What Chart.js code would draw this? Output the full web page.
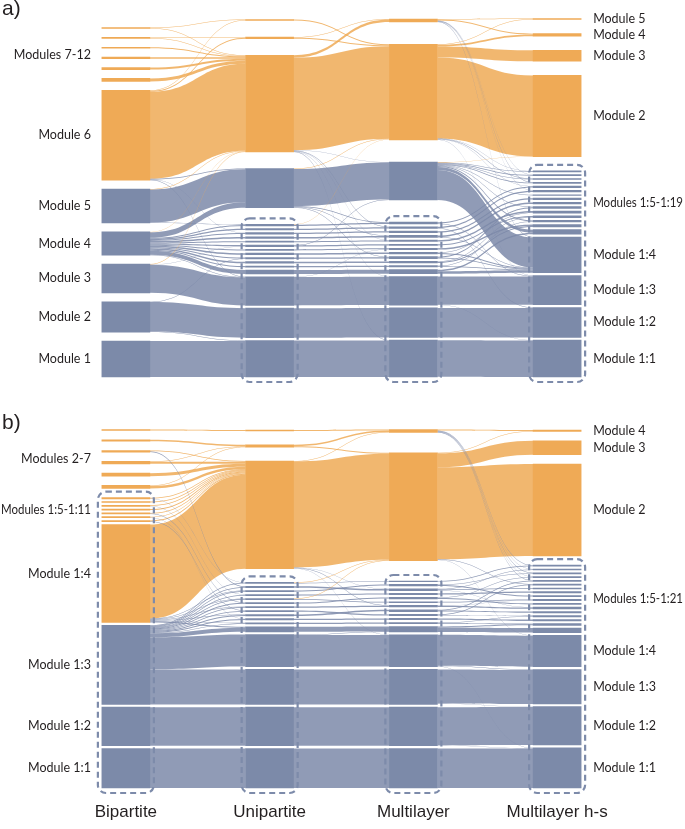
<!DOCTYPE html>
<html>
<head>
<meta charset="utf-8">
<script src="https://cdn.jsdelivr.net/npm/chart.js@4.4.0/dist/chart.umd.min.js"></script>
<style>
  body { margin: 0; background: #fff; width: 685px; height: 829px; overflow: hidden; }
  canvas { display: block; }
</style>
</head>
<body>
<canvas id="panelA" width="685" height="410"></canvas>
<canvas id="panelB" width="685" height="419"></canvas>
<script>
// column names (x axis)
const columns = ['Bipartite', 'Unipartite', 'Multilayer', 'Multilayer h-s'];

// ---------- panel a ----------
const nodesA0 = ['Module 7', 'Module 8', 'Module 9', 'Module 10', 'Module 11', 'Module 12', 'Module 6', 'Module 5', 'Module 4', 'Module 3', 'Module 2', 'Module 1'];
const nodesA1 = ['t1', 't2', 'O', 'B', 's1', 's2', 's3', 's4', 's5', 's6', 's7', 's8', 's9', 's10', 's11', 's12', '3', '2', '1'];
const nodesA2 = ['t1', 'O', 'B', 's1', 's2', 's3', 's4', 's5', 's6', 's7', 's8', 's9', 's10', 's11', 's12', '3', '2', '1'];
const nodesA3 = ['Module 5', 'Module 4', 'Module 3', 'Module 2', 'Module 1:5', 'Module 1:6', 'Module 1:7', 'Module 1:8', 'Module 1:9', 'Module 1:10', 'Module 1:11', 'Module 1:12', 'Module 1:13', 'Module 1:14', 'Module 1:15', 'Module 1:16', 'Module 1:17', 'Module 1:18', 'Module 1:19', 'Module 1:4', 'Module 1:3', 'Module 1:2', 'Module 1:1'];
const orangeA = [
  ['Module 7', 'Module 8', 'Module 9', 'Module 10', 'Module 11', 'Module 12', 'Module 6'],
  ['t1', 't2', 'O'],
  ['t1', 'O'],
  ['Module 5', 'Module 4', 'Module 3', 'Module 2']
];
// first node of the dashed group in each column
const boxA = [null, 's1', 's1', 'Module 1:5'];

const flowsA01 = [
  ['Module 7', 't1', 0.5], ['Module 7', 'O', 0.5],
  ['Module 8', 't2', 0.5], ['Module 8', 'O', 0.5],
  ['Module 9', 'O', 1], ['Module 10', 'O', 1.5], ['Module 11', 'O', 2], ['Module 12', 'O', 3],
  ['Module 6', 't1', 0.5], ['Module 6', 't2', 1], ['Module 6', 'O', 87], ['Module 6', 'B', 0.6], ['Module 6', 's3', 0.4], ['Module 6', '3', 0.3],
  ['Module 5', 'O', 0.4], ['Module 5', 'B', 33], ['Module 5', 's1', 0.6],
  ['Module 4', 'O', 0.3], ['Module 4', 'B', 5.5], ['Module 4', 's1', 1], ['Module 4', 's2', 1.2], ['Module 4', 's3', 1], ['Module 4', 's4', 1.5],
  ['Module 4', 's5', 1], ['Module 4', 's6', 1.2], ['Module 4', 's7', 1], ['Module 4', 's8', 1.5], ['Module 4', 's9', 1], ['Module 4', 's10', 1.5],
  ['Module 4', 's11', 1.2], ['Module 4', 's12', 4], ['Module 4', '3', 0.3],
  ['Module 3', 'O', 0.4], ['Module 3', 's6', 0.4], ['Module 3', '3', 28],
  ['Module 2', 's9', 0.4], ['Module 2', '2', 29.5], ['Module 2', '1', 0.5],
  ['Module 1', '1', 36]
];
const flowsA12 = [
  ['t1', 'O', 1],
  ['t2', 't1', 0.6], ['t2', 'O', 0.9],
  ['O', 't1', 2.4], ['O', 'O', 92.5], ['O', 'B', 0.4], ['O', 's2', 0.4], ['O', 's5', 0.3], ['O', '3', 0.3], ['O', '1', 0.3],
  ['B', 'O', 0.5], ['B', 'B', 37], ['B', 's1', 0.6], ['B', 's4', 0.5], ['B', 's9', 0.5],
  ['s1', 'O', 0.4], ['s1', 's1', 1.2], ['s2', 's2', 1.2], ['s3', 's3', 1.4], ['s4', 's4', 1.5], ['s5', 's5', 1],
  ['s6', 'B', 0.4], ['s6', 's6', 1.2], ['s7', 's7', 1], ['s8', 's8', 1.5], ['s9', 's9', 1.4], ['s10', 's10', 1.5],
  ['s11', 's11', 1.2], ['s12', 's12', 4],
  ['3', 's7', 0.3], ['3', '3', 28.3], ['2', '2', 29.5], ['1', '1', 36.5]
];
const flowsA23 = [
  ['t1', 'Module 5', 0.6], ['t1', 'Module 4', 0.8], ['t1', 'Module 1:6', 0.4], ['t1', 'Module 1:8', 0.4], ['t1', 'Module 1:10', 0.4], ['t1', 'Module 1:4', 0.4],
  ['O', 'Module 5', 0.4], ['O', 'Module 4', 1.7], ['O', 'Module 3', 11], ['O', 'Module 2', 81], ['O', 'Module 1:5', 0.4], ['O', 'Module 1:7', 0.4], ['O', 'Module 1:9', 0.3], ['O', 'Module 1:3', 0.3],
  ['B', 'Module 2', 0.4], ['B', 'Module 1:5', 0.6], ['B', 'Module 1:6', 0.6], ['B', 'Module 1:7', 0.6], ['B', 'Module 1:8', 0.6],
  ['B', 'Module 1:11', 0.6], ['B', 'Module 1:14', 0.6], ['B', 'Module 1:17', 0.8], ['B', 'Module 1:19', 3], ['B', 'Module 1:4', 30],
  ['s1', 'Module 1:9', 1.2], ['s1', 'Module 1:3', 0.6],
  ['s2', 'Module 1:10', 1.2], ['s2', 'Module 1:2', 0.4],
  ['s3', 'Module 1:12', 1.4],
  ['s4', 'Module 1:13', 1.5], ['s4', 'Module 1:4', 0.5],
  ['s5', 'Module 1:15', 1.3],
  ['s6', 'Module 1:16', 1.2],
  ['s7', 'Module 1:18', 1.3],
  ['s8', 'Module 1:15', 0.7], ['s8', 'Module 1:4', 0.8],
  ['s9', 'Module 1:14', 1.0], ['s9', 'Module 1:4', 0.9],
  ['s10', 'Module 1:16', 0.5], ['s10', 'Module 1:18', 1.0],
  ['s11', 'Module 1:17', 0.6], ['s11', 'Module 1:4', 0.6],
  ['s12', 'Module 1:19', 1.5], ['s12', 'Module 1:4', 2.5],
  ['3', 'Module 1:3', 28.3], ['3', 'Module 1:1', 0.3],
  ['2', 'Module 1:2', 29.5],
  ['1', 'Module 1:1', 36.5]
];
const leftLabelsA = [['Modules 7-12', 'Module 7', 'Module 12'], ['Module 6'], ['Module 5'], ['Module 4'], ['Module 3'], ['Module 2'], ['Module 1']];
const rightLabelsA = [['Module 5'], ['Module 4'], ['Module 3'], ['Module 2'], ['Modules 1:5-1:19', 'Module 1:5', 'Module 1:19'], ['Module 1:4'], ['Module 1:3'], ['Module 1:2'], ['Module 1:1']];

// ---------- panel b ----------
const nodesB0 = ['Module 2', 'Module 3', 'Module 4', 'Module 5', 'Module 6', 'Module 7', 'Module 1:5', 'Module 1:6', 'Module 1:7', 'Module 1:8', 'Module 1:9', 'Module 1:10', 'Module 1:11', 'Module 1:4', 'Module 1:3', 'Module 1:2', 'Module 1:1'];
const nodesB1 = ['t1', 't2', 'O', 's1', 's2', 's3', 's4', 's5', 's6', 's7', 's8', 's9', 's10', 's11', 's12', '4', '3', '2', '1'];
const nodesB2 = ['t1', 'O', 's1', 's2', 's3', 's4', 's5', 's6', 's7', 's8', 's9', 's10', 's11', 's12', '4', '3', '2', '1'];
const nodesB3 = ['Module 4', 'Module 3', 'Module 2', 'Module 1:5', 'Module 1:6', 'Module 1:7', 'Module 1:8', 'Module 1:9', 'Module 1:10', 'Module 1:11', 'Module 1:12', 'Module 1:13', 'Module 1:14', 'Module 1:15', 'Module 1:16', 'Module 1:17', 'Module 1:18', 'Module 1:19', 'Module 1:20', 'Module 1:21', 'Module 1:4', 'Module 1:3', 'Module 1:2', 'Module 1:1'];
const orangeB = [
  ['Module 2', 'Module 3', 'Module 4', 'Module 5', 'Module 6', 'Module 7', 'Module 1:5', 'Module 1:6', 'Module 1:7', 'Module 1:8', 'Module 1:9', 'Module 1:10', 'Module 1:11', 'Module 1:4'],
  ['t1', 't2', 'O'],
  ['t1', 'O'],
  ['Module 4', 'Module 3', 'Module 2']
];
const boxB = ['Module 1:5', 's1', 's1', 'Module 1:5'];

const flowsB01 = [
  ['Module 2', 't1', 1],
  ['Module 3', 't2', 1.5],
  ['Module 4', 'O', 0.7], ['Module 4', 's2', 0.8],
  ['Module 5', 't2', 0.5], ['Module 5', 'O', 2],
  ['Module 6', 'O', 3],
  ['Module 7', 't2', 0.5], ['Module 7', 'O', 2.5],
  ['Module 1:5', 'O', 0.8], ['Module 1:5', 's1', 0.3],
  ['Module 1:6', 'O', 0.9],
  ['Module 1:7', 'O', 0.6], ['Module 1:7', 's4', 0.4],
  ['Module 1:8', 'O', 1],
  ['Module 1:9', 'O', 0.7], ['Module 1:9', 's6', 0.3],
  ['Module 1:10', 'O', 0.7], ['Module 1:10', 's10', 0.3],
  ['Module 1:11', 'O', 0.8], ['Module 1:11', 's8', 0.4],
  ['Module 1:4', 'O', 94], ['Module 1:4', 's3', 0.6], ['Module 1:4', 's5', 0.6], ['Module 1:4', 's7', 0.6], ['Module 1:4', 's9', 0.6], ['Module 1:4', 's11', 0.6], ['Module 1:4', 's12', 1],
  ['Module 1:3', 's1', 0.8], ['Module 1:3', 's2', 0.6], ['Module 1:3', 's3', 0.6], ['Module 1:3', 's4', 0.8], ['Module 1:3', 's5', 0.6], ['Module 1:3', 's6', 0.9],
  ['Module 1:3', 's7', 0.6], ['Module 1:3', 's8', 0.8], ['Module 1:3', 's9', 0.8], ['Module 1:3', 's10', 1], ['Module 1:3', 's11', 0.6], ['Module 1:3', 's12', 4],
  ['Module 1:3', '4', 32], ['Module 1:3', '3', 35],
  ['Module 1:2', '2', 38.5],
  ['Module 1:1', '1', 39.5]
];
const flowsB12 = [
  ['t1', 't1', 1],
  ['t2', 't1', 1.5], ['t2', 'O', 1],
  ['O', 't1', 0.5], ['O', 'O', 106], ['O', 's3', 0.4], ['O', 's7', 0.4], ['O', '4', 0.3],
  ['s1', 'O', 0.5], ['s1', 's1', 0.6],
  ['s2', 's3', 1.4], ['s3', 's2', 1.2], ['s4', 's4', 1.2],
  ['s5', 'O', 0.4], ['s5', 's6', 0.8], ['s6', 's5', 1.2], ['s7', 's7', 1.2],
  ['s8', 's9', 1.2], ['s9', 's8', 1.4], ['s10', 's10', 1.3], ['s11', 's11', 1.2], ['s12', 's12', 5],
  ['4', 's12', 0.5], ['4', '4', 31.5], ['3', '3', 35], ['2', '2', 38.5], ['1', '1', 39.5]
];
const flowsB23 = [
  ['t1', 'Module 4', 1.0], ['t1', 'Module 1:5', 0.4], ['t1', 'Module 1:6', 0.4], ['t1', 'Module 1:7', 0.4], ['t1', 'Module 1:8', 0.4], ['t1', 'Module 1:9', 0.4],
  ['O', 'Module 4', 0.5], ['O', 'Module 3', 14], ['O', 'Module 2', 92], ['O', 'Module 1:10', 0.4], ['O', 'Module 1:4', 0.3],
  ['s1', 'Module 1:5', 0.6],
  ['s2', 'Module 1:7', 0.6], ['s2', 'Module 1:13', 1.0],
  ['s3', 'Module 1:6', 0.6], ['s3', 'Module 1:11', 0.8], ['s3', 'Module 1:16', 0.4],
  ['s4', 'Module 1:12', 1.2],
  ['s5', 'Module 1:8', 0.6], ['s5', 'Module 1:15', 1.0],
  ['s6', 'Module 1:14', 0.8],
  ['s7', 'Module 1:14', 0.4], ['s7', 'Module 1:16', 1.2],
  ['s8', 'Module 1:9', 0.6], ['s8', 'Module 1:17', 1.2],
  ['s9', 'Module 1:10', 0.6], ['s9', 'Module 1:18', 0.6],
  ['s10', 'Module 1:19', 1.3],
  ['s11', 'Module 1:18', 0.6], ['s11', 'Module 1:20', 0.6],
  ['s12', 'Module 1:20', 1.0], ['s12', 'Module 1:21', 4.5],
  ['4', 'Module 1:4', 31.0], ['4', 'Module 1:3', 0.4], ['4', 'Module 1:1', 0.4],
  ['3', 'Module 1:3', 34.0], ['3', 'Module 1:2', 0.3],
  ['2', 'Module 1:2', 38.0], ['2', 'Module 1:1', 0.3],
  ['1', 'Module 1:1', 39.5]
];
const leftLabelsB = [['Modules 2-7', 'Module 2', 'Module 7'], ['Modules 1:5-1:11', 'Module 1:5', 'Module 1:11'], ['Module 1:4'], ['Module 1:3'], ['Module 1:2'], ['Module 1:1']];
const rightLabelsB = [['Module 4'], ['Module 3'], ['Module 2'], ['Modules 1:5-1:21', 'Module 1:5', 'Module 1:21'], ['Module 1:4'], ['Module 1:3'], ['Module 1:2'], ['Module 1:1']];

// ---------- look ----------
const ORANGE = '#EFAA56';
const BLUE = '#7C8AA9';
const FLOW_ORANGE = 'rgba(239,170,86,0.85)';
const FLOW_BLUE = 'rgba(124,138,169,0.85)';
const BOX_COLOR = '#7D8BAA';
const TEXT = '#231F20';
const NODE_W = 48;
const SMALL_GAP = 2.8;

// stack each column: dashed group from the bottom, the rest spread up to the top
function layout(nodes, flows, box, tops, bottom) {
  const inOut = nodes.map(col => Object.fromEntries(col.map(n => [n, { in: 0, out: 0 }])));
  flows.forEach((list, c) => list.forEach(([s, t, v]) => {
    inOut[c][s].out += v;
    inOut[c + 1][t].in += v;
  }));
  const pos = nodes.map((col, c) => {
    const sz = col.map(n => Math.max(inOut[c][n].in, inOut[c][n].out));
    const p = {};
    const bs = box[c] ? col.indexOf(box[c]) : col.length;
    let y = bottom;
    for (let i = col.length - 1; i >= bs; i--) {
      p[col[i]] = [y - sz[i], y];
      y -= sz[i] + SMALL_GAP;
    }
    if (bs < col.length) y += SMALL_GAP;
    let rest = 0;
    for (let i = 0; i < bs; i++) rest += sz[i];
    const gaps = bs < col.length ? bs : bs - 1;
    const g = (y - tops[c] - rest) / gaps;
    let cur = tops[c];
    for (let i = 0; i < bs; i++) {
      p[col[i]] = [cur, cur + sz[i]];
      cur += sz[i] + g;
    }
    return p;
  });
  const links = [];
  flows.forEach((list, c) => list.forEach(([s, t, v]) => links.push({ c, s, t, v })));
  nodes.forEach((col, c) => col.forEach(n => {
    let y = pos[c][n][0];
    links.filter(l => l.c === c && l.s === n)
      .sort((a, b) => pos[c + 1][a.t][0] - pos[c + 1][b.t][0])
      .forEach(l => { l.sy = y; y += l.v; });
    y = pos[c][n][0];
    links.filter(l => l.c === c - 1 && l.t === n)
      .sort((a, b) => pos[c - 1][a.s][0] - pos[c - 1][b.s][0])
      .forEach(l => { l.ty = y; y += l.v; });
  }));
  return { pos, links };
}

function makePanel(id, cfg) {
  const { nodes, orange, flows, box, tops, bottom, yMax, left, right, letter, letterY, showAxis } = cfg;
  const { pos, links } = layout(nodes, flows, box, tops, bottom);
  const rows = Math.max(...nodes.map(col => col.length));
  const datasets = [];
  for (let r = 0; r < rows; r++) {
    datasets.push({
      data: nodes.map((col, c) => col[r] ? pos[c][col[r]] : null),
      backgroundColor: nodes.map((col, c) => col[r] && orange[c].includes(col[r]) ? ORANGE : BLUE),
      barThickness: NODE_W,
      grouped: false,
      borderWidth: 0
    });
  }

  const sankey = {
    id: 'sankey',
    beforeDatasetsDraw(chart) {
      const { ctx, scales: { x, y } } = chart;
      const half = NODE_W / 2;
      ctx.save();
      [...links].sort((a, b) => b.v - a.v).forEach(l => {
        const x0 = x.getPixelForValue(l.c) + half;
        const x1 = x.getPixelForValue(l.c + 1) - half;
        const xm = (x0 + x1) / 2;
        const a0 = y.getPixelForValue(l.sy), a1 = y.getPixelForValue(l.sy + l.v);
        const b0 = y.getPixelForValue(l.ty), b1 = y.getPixelForValue(l.ty + l.v);
        ctx.beginPath();
        ctx.moveTo(x0, a0);
        ctx.bezierCurveTo(xm, a0, xm, b0, x1, b0);
        ctx.lineTo(x1, b1);
        ctx.bezierCurveTo(xm, b1, xm, a1, x0, a1);
        ctx.closePath();
        ctx.fillStyle = orange[l.c + 1].includes(l.t) ? FLOW_ORANGE : FLOW_BLUE;
        ctx.fill();
      });
      ctx.restore();
    },
    afterDatasetsDraw(chart) {
      const { ctx, scales: { x, y } } = chart;
      ctx.save();
      ctx.strokeStyle = BOX_COLOR;
      ctx.lineWidth = 2.2;
      ctx.setLineDash([6, 4]);
      box.forEach((first, c) => {
        if (!first) return;
        const col = nodes[c];
        const cx = x.getPixelForValue(c);
        const top = y.getPixelForValue(pos[c][first][0]) - 6;
        const bot = y.getPixelForValue(pos[c][col[col.length - 1]][1]) + 5;
        ctx.beginPath();
        ctx.roundRect(cx - NODE_W / 2 - 4, top, NODE_W + 8, bot - top, 8);
        ctx.stroke();
      });
      ctx.restore();
    },
    afterDraw(chart) {
      const { ctx, scales: { x, y } } = chart;
      ctx.save();
      ctx.fillStyle = TEXT;
      ctx.textBaseline = 'middle';
      ctx.font = '12.5px Lato';
      const mid = (c, lab) => {
        const a = pos[c][lab[1] || lab[0]][0];
        const b = pos[c][lab[2] || lab[0]][1];
        return y.getPixelForValue((a + b) / 2);
      };
      const lx = x.getPixelForValue(0) - NODE_W / 2 - 11;
      const rx = x.getPixelForValue(3) + NODE_W / 2 + 12;
      ctx.textAlign = 'right';
      left.forEach(lab => ctx.fillText(lab[0], lx, mid(0, lab), lx - 1));
      ctx.textAlign = 'left';
      right.forEach(lab => ctx.fillText(lab[0], rx, mid(3, lab), chart.width - rx - 2));
      ctx.font = '21px "Liberation Sans"';
      ctx.textBaseline = 'alphabetic';
      ctx.fillText(letter, 2, letterY);
      ctx.restore();
    }
  };

  const xScale = {
    display: showAxis,
    grid: { display: false, drawTicks: false },
    border: { display: false },
    ticks: { font: { family: 'Liberation Sans', size: 17 }, color: TEXT, padding: 8 }
  };
  if (showAxis) xScale.afterFit = s => { s.height = 35; };

  return new Chart(document.getElementById(id), {
    type: 'bar',
    data: { labels: columns, datasets },
    options: {
      responsive: false,
      animation: false,
      events: [],
      devicePixelRatio: 1,
      layout: { padding: { left: 54, right: 56, top: 0, bottom: 0 } },
      plugins: { legend: { display: false }, tooltip: { enabled: false } },
      scales: {
        x: xScale,
        y: { display: false, min: 0, max: yMax, reverse: true }
      }
    },
    plugins: [sankey]
  });
}

makePanel('panelA', {
  nodes: [nodesA0, nodesA1, nodesA2, nodesA3],
  orange: orangeA,
  flows: [flowsA01, flowsA12, flowsA23],
  box: boxA,
  tops: [27.5, 19.5, 19, 18.5],
  bottom: 377,
  yMax: 410,
  left: leftLabelsA,
  right: rightLabelsA,
  letter: 'a)',
  letterY: 15,
  showAxis: false
});

makePanel('panelB', {
  nodes: [nodesB0, nodesB1, nodesB2, nodesB3],
  orange: orangeB,
  flows: [flowsB01, flowsB12, flowsB23],
  box: boxB,
  tops: [19.5, 20, 19.5, 20],
  bottom: 378,
  yMax: 384,
  left: leftLabelsB,
  right: rightLabelsB,
  letter: 'b)',
  letterY: 19,
  showAxis: true
});
</script>
</body>
</html>
